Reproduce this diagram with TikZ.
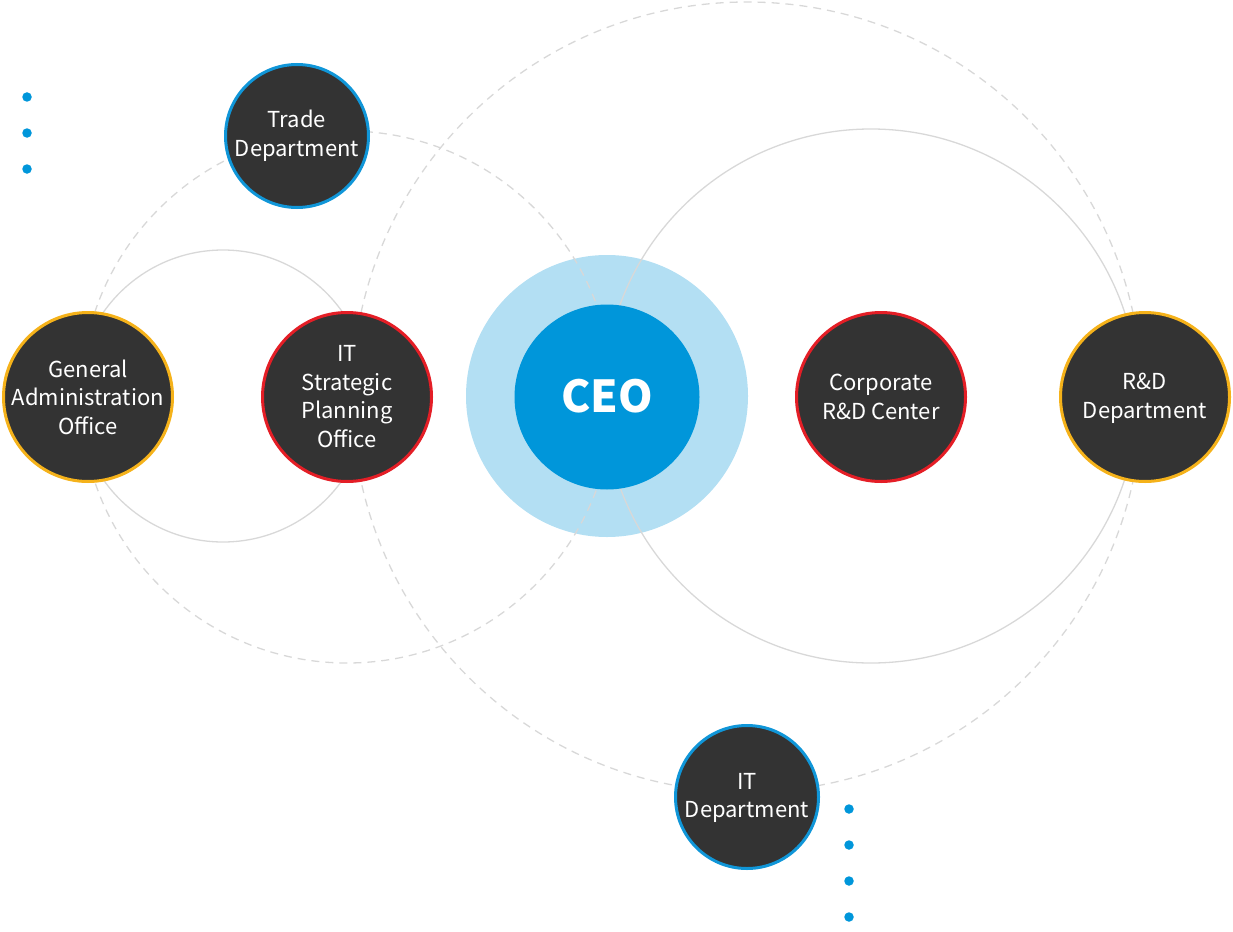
\documentclass[tikz,border=0pt]{standalone}
\usepackage{fontspec}
\setmainfont{Noto Sans CJK KR}
\definecolor{nodefill}{HTML}{333333}
\definecolor{bblue}{HTML}{1096D8}
\definecolor{bylw}{HTML}{F5B21A}
\definecolor{bred}{HTML}{E41E26}
\definecolor{ceoblue}{HTML}{0096DA}
\definecolor{ceolight}{HTML}{B3DFF3}
\definecolor{guide}{HTML}{D8D8D8}
\tikzset{
  dept/.style={circle, fill=nodefill, line width=3pt, inner sep=0pt, minimum size=169pt},
  smalldept/.style={dept, minimum size=143pt},
  lbl/.style={text=white, align=center, inner sep=0pt, font=\fontsize{22}{28.5}\selectfont},
  guidesolid/.style={draw=guide, line width=1.3pt},
  guidedash/.style={draw=guide, line width=1.3pt, dash pattern=on 8pt off 6pt},
  bullet/.style={circle, fill=ceoblue, inner sep=0pt, minimum size=9.5pt}
}
\begin{document}
\begin{tikzpicture}[x=1pt,y=-1pt]
\useasboundingbox (0,0) rectangle (1233,931);
% CEO halo
\fill[ceolight] (607,396) circle[radius=141pt];
% guide circles
\draw[guidesolid] (223,396) circle[radius=146pt];
\draw[guidesolid] (871,396) circle[radius=267pt];
\draw[guidedash] (347,397) circle[radius=266pt];
\draw[guidedash] (747,397) circle[radius=395pt];
% CEO
\node[circle, fill=ceoblue, inner sep=0pt, minimum size=185pt] (ceo) at (607,397) {};
\node[text=white, inner sep=0pt, font=\fontsize{44}{48}\selectfont\bfseries] (ceotxt) at (607,396) {CEO};
% departments
\node[smalldept, draw=bblue] (trade) at (297,136) {};
\node[lbl] (tradetxt) at (297,136) {Trade\\Department};
\node[dept, draw=bylw] (ga) at (88,397) {};
\node[lbl] (gatxt) at (88,397) {General\\Administration\\Office};
\node[dept, draw=bred] (itsp) at (347,397) {};
\node[lbl] (itsptxt) at (347,396.5) {IT\\Strategic\\Planning\\Office};
\node[dept, draw=bred] (crd) at (881,397) {};
\node[lbl] (crdtxt) at (881,397) {Corporate\\R\&D Center};
\node[dept, draw=bylw] (rd) at (1145,397) {};
\node[lbl] (rdtxt) at (1145,398.5) {R\&D\\Department};
\node[smalldept, draw=bblue] (itd) at (747,797) {};
\node[lbl] (itdtxt) at (747,798) {IT\\Department};
% bullets
\node[bullet] (b1) at (27,97) {};
\node[bullet] (b2) at (27,133) {};
\node[bullet] (b3) at (27,169) {};
\node[bullet] (b4) at (849,809) {};
\node[bullet] (b5) at (849,845) {};
\node[bullet] (b6) at (849,881) {};
\node[bullet] (b7) at (849,917) {};
\end{tikzpicture}
\end{document}
